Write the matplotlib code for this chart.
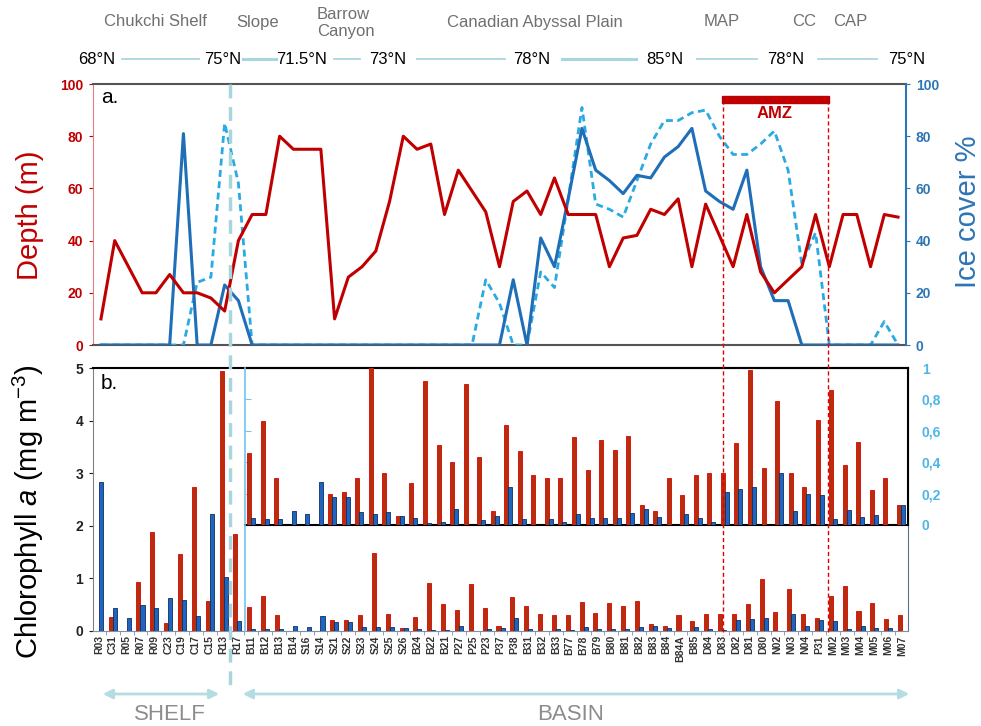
import matplotlib
matplotlib.use("Agg")
import matplotlib.pyplot as plt
from matplotlib.lines import Line2D
from matplotlib.patches import Rectangle, FancyArrowPatch
import numpy as np

plt.rcParams['font.family'] = ['Liberation Sans', 'DejaVu Sans']
plt.rcParams['mathtext.fontset'] = 'custom'
plt.rcParams['mathtext.rm'] = 'Liberation Sans'
plt.rcParams['mathtext.it'] = 'Liberation Sans:italic'

# ---------------- data ----------------
stations = ["R03", "C31", "R05", "R07", "R09", "C23", "C19", "C17", "C15", "R13", "R17",
            "B11", "B12", "B13", "B14", "S16", "S14", "S21", "S22", "S23", "S24", "S25", "S26",
            "B24", "B22", "B21", "P27", "P25", "P23", "P37", "P38", "B31", "B32", "B33", "B77",
            "B78", "B79", "B80", "B81", "B82", "B83", "B84", "B84A", "B85", "D84", "D83", "D82",
            "D81", "D80", "N02", "N03", "N04", "P31", "M02", "M03", "M04", "M05", "M06", "M07"]

depth = [10, 40, 30, 20, 20, 27, 20, 20, 18, 13, 40,
         50, 50, 80, 75, 75, 75, 10, 26, 30, 36, 55, 80,
         75, 77, 50, 67, 59, 51, 30, 55, 59, 50, 64, 50,
         50, 50, 30, 41, 42, 52, 50, 56, 30, 54, 42, 30,
         50, 28, 20, 25, 30, 50, 30, 50, 50, 30, 50, 49]

ice_solid = [0, 0, 0, 0, 0, 0, 81, 0, 0, 23, 17,
             0, 0, 0, 0, 0, 0, 0, 0, 0, 0, 0, 0,
             0, 0, 0, 0, 0, 0, 0, 25, 0, 41, 30, 56,
             83, 67, 63, 58, 65, 64, 72, 76, 83, 59, 55, 52,
             67, 30, 17, 17, 0, 0, 0, 0, 0, 0, 0, 0]

ice_dashed = [0, 0, 0, 0, 0, 0, 0, 24, 26, 85, 62,
              0, 0, 0, 0, 0, 0, 0, 0, 0, 0, 0, 0,
              0, 0, 0, 0, 0, 25, 16, 0, 0, 28, 22, 56,
              91, 54, 52, 49, 63, 77, 86, 86, 89, 90, 80, 73,
              73, 77, 82, 67, 31, 43, 0, 0, 0, 0, 9, 0]

chl_red = [0, 0.26, 0, 0.94, 1.89, 0.15, 1.47, 2.74, 0.57, 4.94, 1.84,
           0.46, 0.66, 0.30, 0, 0, 0, 0.20, 0.21, 0.30, 1.49, 0.33, 0.06,
           0.27, 0.92, 0.51, 0.40, 0.90, 0.43, 0.09, 0.64, 0.47, 0.32, 0.30, 0.30,
           0.56, 0.35, 0.54, 0.48, 0.57, 0.13, 0.09, 0.30, 0.19, 0.32, 0.33, 0.33,
           0.52, 0.99, 0.36, 0.79, 0.33, 0.24, 0.67, 0.86, 0.38, 0.53, 0.22, 0.30]

chl_blue = [2.83, 0.43, 0.25, 0.49, 0.43, 0.63, 0.58, 0.28, 2.22, 1.03, 0.19,
            0.047, 0.04, 0.04, 0.089, 0.068, 0.276, 0.178, 0.18, 0.085, 0.068, 0.083, 0.057,
            0.045, 0.015, 0.017, 0.10, 0, 0.03, 0.057, 0.244, 0.04, 0, 0.04, 0.02,
            0.068, 0.045, 0.045, 0.045, 0.078, 0.10, 0.05, 0, 0.072, 0.045, 0.02, 0.21,
            0.23, 0.24, 0, 0.33, 0.09, 0.20, 0.19, 0.04, 0.095, 0.05, 0.064, 0]

basin_start = 11
inset_extra_red = [0.13]
inset_extra_blue = [0.13]

regions = ["Chukchi Shelf", "Slope", "Barrow\nCanyon", "Canadian Abyssal Plain", "MAP", "CC", "CAP"]
latitudes = ["68°N", "75°N", "71.5°N", "73°N", "78°N", "85°N", "78°N", "75°N"]
inset_ticks = [0, 0.2, 0.4, 0.6, 0.8, 1.0]
inset_ticklabels = ["0", "0,2", "0,4", "0,6", "0,8", "1"]

# ---------------- layout helpers ----------------
W, H = 981, 726
fig = plt.figure(figsize=(W / 100, H / 100), dpi=100)
fig.patch.set_facecolor('white')


def box(x0, y0, x1, y1):
    return [x0 / W, 1 - y1 / H, (x1 - x0) / W, (y1 - y0) / H]


def fx(x):
    return x / W


def fy(y):
    return 1 - y / H


RED = '#C00000'
BLUE = '#1F6EB8'
LBLUE = '#2AAAE2'
PALE = '#A9D6DC'

# ---------------- header ----------------
region_pos = [(155, 22), (258, 22), (317, 23), (535, 22), (722, 22), (804, 22), (850, 22)]
for (px, py), name in zip(region_pos, regions):
    ha = 'left' if '\n' in name else 'center'
    fig.text(fx(px), fy(py), name, ha=ha, va='center', fontsize=12, color='#707070',
             linespacing=1.15)

lat_pos = [97, 223, 302, 388, 532, 665, 786, 907]
for px, lab in zip(lat_pos, latitudes):
    fig.text(fx(px), fy(60), lab, ha='center', va='center', fontsize=12, color='black')

lat_lines = [(122, 199, 1.3), (243, 276, 2.2), (334, 360, 1.3), (417, 505, 1.3),
             (562, 636, 2.2), (697, 757, 1.3), (818, 877, 1.3)]
for x0, x1, lw in lat_lines:
    fig.add_artist(Line2D([fx(x0), fx(x1)], [fy(59), fy(59)], color=PALE, lw=lw,
                          transform=fig.transFigure))

# ---------------- panel a ----------------
ax1 = fig.add_axes(box(93, 84, 906, 345))
x = np.arange(len(stations))
ax1.plot(x, ice_dashed, color=LBLUE, lw=2, ls=(0, (2.5, 1.6)), zorder=3)
ax1.plot(x, ice_solid, color=BLUE, lw=2.2, zorder=4)
ax1.plot(x, depth, color=RED, lw=2.2, zorder=5)
ax1.set_xlim(-0.58, 58.58)
ax1.set_ylim(0, 100)
ax1.set_xticks([])
ax1.set_yticks(range(0, 101, 20))
ax1.tick_params(axis='y', colors=RED, labelsize=10, length=3, width=0.8, pad=4)
for lab in ax1.get_yticklabels():
    lab.set_fontweight('bold')
ax1.spines['left'].set_color('#E08080')
ax1.spines['top'].set_color('#555555')
ax1.spines['bottom'].set_color('#555555')
ax1.spines['right'].set_visible(False)
ax1.spines['top'].set_linewidth(1.5)
ax1.spines['bottom'].set_linewidth(1.5)

ax1r = ax1.twinx()
ax1r.set_ylim(0, 100)
ax1r.set_yticks(range(0, 101, 20))
ax1r.tick_params(axis='y', colors='#2E75B6', labelsize=10, length=3, width=0.8, pad=4)
for lab in ax1r.get_yticklabels():
    lab.set_fontweight('bold')
ax1r.spines['right'].set_color('#2E75B6')
ax1r.spines['right'].set_linewidth(1.5)
for s in ['left', 'top', 'bottom']:
    ax1r.spines[s].set_visible(False)

ax1.text(0.01, 0.95, "a.", transform=ax1.transAxes, fontsize=15, ha='left', va='center')

fig.text(fx(30), fy(215), "Depth (m)", rotation=90, ha='center', va='center',
         fontsize=21, color=RED)
fig.text(fx(968), fy(212), "Ice cover %", rotation=90, ha='center', va='center',
         fontsize=21, color='#2E75B6')

# ---------------- panel b ----------------
ax2 = fig.add_axes(box(93, 368, 908, 631))
bw, off = 0.29, 0.145
ax2.bar(x - off, chl_red, bw, color='#B3300C', edgecolor='#E00000', lw=0.6, zorder=3)
ax2.bar(x + off, chl_blue, bw, color='#1F64BE', edgecolor='#0B2F66', lw=0.6, zorder=3)
ax2.set_xlim(-0.43, 58.43)
ax2.set_ylim(0, 5)
ax2.set_yticks(range(0, 6))
ax2.tick_params(axis='y', labelsize=10, length=3, width=0.8, colors='#222222', pad=4)
for lab in ax2.get_yticklabels():
    lab.set_fontweight('bold')
ax2.set_xticks(x)
ax2.set_xticklabels(stations, rotation=90, fontsize=7.5, fontweight='bold', color='#333333')
ax2.tick_params(axis='x', length=0, pad=3)
ax2.set_xticks(x[:-1] + 0.5, minor=True)
ax2.tick_params(axis='x', which='minor', length=3, color='#8090A8')
ax2.spines['left'].set_color('#808080')
ax2.spines['bottom'].set_color('#7F8FA6')
ax2.spines['right'].set_color('#5A6E8C')
ax2.spines['top'].set_color('black')
ax2.spines['top'].set_linewidth(1.5)
ax2.text(0.01, 0.94, "b.", transform=ax2.transAxes, fontsize=15, ha='left', va='center')

fig.text(fx(28), fy(512), r"Chlorophyll $\mathit{a}$ (mg m$^{-3}$)", rotation=90,
         ha='center', va='center', fontsize=21, color='black')

# inset (basin stations on 0-1 scale)
ax3 = fig.add_axes(box(245, 368, 908, 525))
ax3.patch.set_alpha(0)
inset_red = chl_red[basin_start:] + inset_extra_red
inset_blue = chl_blue[basin_start:] + inset_extra_blue
xi = np.arange(len(inset_red))
ax3.bar(xi - 0.148, inset_red, 0.295, color='#B3300C', edgecolor='#E00000', lw=0.6, zorder=3)
ax3.bar(xi + 0.148, inset_blue, 0.295, color='#1F64BE', edgecolor='#0B2F66', lw=0.6, zorder=3)
ax3.set_xlim(-0.443, 48.52)
ax3.set_ylim(0, 1)
ax3.set_xticks([])
ax3.set_yticks(inset_ticks)
ax3.set_yticklabels(inset_ticklabels)
ax3.tick_params(axis='y', left=True, right=False, labelleft=False, labelright=True,
                direction='in', length=4, color='#6EC6EA', labelcolor='#4DB6E6',
                labelsize=10, pad=10)
for lab in ax3.get_yticklabels():
    lab.set_fontweight('bold')
for s in ['top', 'right', 'bottom']:
    ax3.spines[s].set_color('black')
    ax3.spines[s].set_linewidth(1.5)
ax3.spines['left'].set_visible(False)
fig.add_artist(Line2D([fx(245), fx(245)], [fy(368), fy(631)], color='#6EC6EA', lw=1.2,
                      transform=fig.transFigure))

# ---------------- annotations ----------------
# shelf/basin separator
fig.add_artist(Line2D([fx(230), fx(230)], [fy(84), fy(693)], color=PALE, lw=2.5,
                      ls=(0, (4, 2.5)), transform=fig.transFigure, zorder=10))

# AMZ box
for xv in (723, 828):
    fig.add_artist(Line2D([fx(xv), fx(xv)], [fy(100), fy(635)], color='#E00000', lw=1,
                          ls=(0, (3, 2)), transform=fig.transFigure, zorder=10))
fig.add_artist(Rectangle((fx(722), fy(103)), fx(829) - fx(722), fy(96) - fy(103),
                         color='#C00000', transform=fig.transFigure, zorder=11))
fig.text(fx(775), fy(114), "AMZ", ha='center', va='center', fontsize=12, color='#C00000',
         fontweight='bold', zorder=11)

# shelf / basin arrows
for x0, x1 in [(100, 222), (240, 912)]:
    fig.add_artist(FancyArrowPatch((fx(x0), fy(694)), (fx(x1), fy(694)),
                                   arrowstyle='<|-|>', mutation_scale=14, color='#B4DDE2',
                                   lw=2, transform=fig.transFigure))
fig.text(fx(170), fy(714), "SHELF", ha='center', va='center', fontsize=16, color='#8C8C8C')
fig.text(fx(571), fy(714), "BASIN", ha='center', va='center', fontsize=16, color='#8C8C8C')

fig.savefig("out.png", dpi=100, facecolor='white')
